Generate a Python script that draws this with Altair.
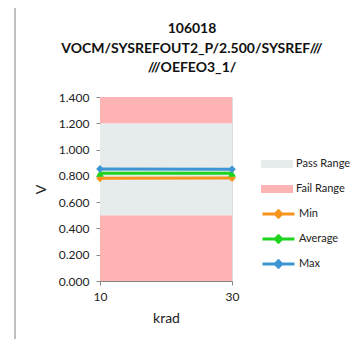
import altair as alt
import pandas as pd

krad = [10, 30]
min_v = [0.781, 0.783]
avg_v = [0.819, 0.819]
max_v = [0.853, 0.850]

band_names = ["Fail Range", "Pass Range", "Fail Range"]
band_lo = [0.0, 0.5, 1.2]
band_hi = [0.5, 1.2, 1.4]

series_names = ["Min", "Average", "Max"]
series_colors = ["#F7941D", "#1ED41E", "#3C96D2"]
band_colors = ["#E6EBEB", "#FFB3B3"]

title_lines = ["106018", "VOCM/SYSREFOUT2_P/2.500/SYSREF///", "///OEFEO3_1/"]

bands = pd.DataFrame({"name": band_names, "lo": band_lo, "hi": band_hi,
                      "x0": [krad[0]] * 3, "x1": [krad[-1]] * 3})
rows = []
for name, vals in zip(series_names, [min_v, avg_v, max_v]):
    for k, v in zip(krad, vals):
        rows.append({"krad": k, "V": v, "series": name, "marker": name})
lines = pd.DataFrame(rows)

FONT = "Lato"

xscale = alt.Scale(domain=[10, 30], nice=False, zero=False)
yscale = alt.Scale(domain=[0, 1.4], nice=False)

xaxis = alt.Axis(values=[10, 30], format="d", title="krad", grid=False,
                 domainColor="#888888", tickColor="#888888", labelFontSize=12,
                 titleFontSize=14, titleFontWeight="normal", labelColor="#222",
                 titleColor="#222", labelPadding=6, titlePadding=9, tickSize=4,
                 labelOverlap=False, labelFlush=False)
yaxis = alt.Axis(values=[0, 0.2, 0.4, 0.6, 0.8, 1.0, 1.2, 1.4], format=".3f",
                 title="V", grid=False, domainColor="#888888", tickColor="#888888",
                 labelFontSize=12, titleFontSize=14, titleFontWeight="normal",
                 labelColor="#222", titleColor="#222", tickSize=4, labelPadding=7,
                 titlePadding=10, labelOverlap=False, labelFlush=False)

base = alt.Chart(pd.DataFrame({"a": [0]}))

border = base.mark_rect(
    fill=None, stroke="#AAAAAA", strokeWidth=1.5, clip=False
).encode(x=alt.value(-85), x2=alt.value(400), y=alt.value(-90), y2=alt.value(400))

title_layer = base.mark_text(
    font=FONT, fontSize=14, fontWeight="bold", color="#111", align="center",
    baseline="middle", lineHeight=19.5
).encode(x=alt.value(92), y=alt.value(-68), text=alt.value(title_lines))

band_layer = alt.Chart(bands).mark_rect().encode(
    x=alt.X("x0:Q", scale=xscale, axis=xaxis),
    x2="x1:Q",
    y=alt.Y("lo:Q", scale=yscale, axis=yaxis),
    y2="hi:Q",
    fill=alt.Fill("name:N",
                  scale=alt.Scale(domain=["Pass Range", "Fail Range"], range=band_colors),
                  legend=alt.Legend(title=None, orient="none", legendX=161, legendY=59,
                                    symbolType="M-1,-0.25H1V0.25H-1Z", symbolSize=1024,
                                    symbolStrokeWidth=0, clipHeight=16,
                                    labelFontSize=11, labelFont=FONT, rowPadding=9,
                                    labelOffset=3, labelColor="#222")),
)

line_layer = alt.Chart(lines).mark_line(strokeWidth=3).encode(
    x=alt.X("krad:Q", scale=xscale, axis=xaxis),
    y=alt.Y("V:Q", scale=yscale, axis=yaxis),
    stroke=alt.Stroke("series:N",
                      scale=alt.Scale(domain=series_names, range=series_colors),
                      legend=alt.Legend(title=None, orient="none", legendX=161, legendY=109,
                                        symbolType="M-1,0H1M0,-0.2L0.2,0L0,0.2L-0.2,0Z",
                                        symbolSize=1024, symbolStrokeWidth=3, clipHeight=16,
                                        labelFontSize=11, labelFont=FONT, rowPadding=9,
                                        labelOffset=3, labelColor="#222")),
    detail="series:N",
)

point_layer = alt.Chart(lines).mark_point(filled=True, size=60, opacity=1).encode(
    x=alt.X("krad:Q", scale=xscale, axis=xaxis),
    y=alt.Y("V:Q", scale=yscale, axis=yaxis),
    color=alt.Color("marker:N", scale=alt.Scale(domain=series_names, range=series_colors),
                    legend=None),
    shape=alt.Shape("marker:N",
                    scale=alt.Scale(domain=series_names,
                                    range=["diamond", "triangle-up", "diamond"]),
                    legend=None),
)

chart = alt.layer(border, band_layer, line_layer, point_layer, title_layer).resolve_scale(
    color="independent", shape="independent", stroke="independent"
).properties(
    width=132, height=184,
    autosize=alt.AutoSizeParams(type="none"),
    padding={"left": 92, "top": 89, "right": 118, "bottom": 58},
).configure_view(stroke=None).configure_axis(labelFont=FONT, titleFont=FONT).configure(
    font=FONT)

chart.save("out.html", embed_options={"renderer": "svg", "actions": False})
